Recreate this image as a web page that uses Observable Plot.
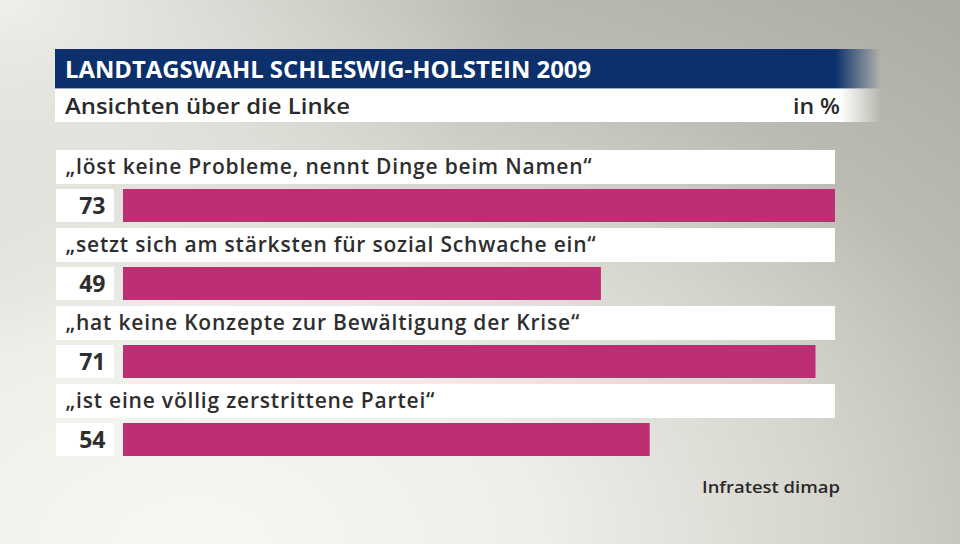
<!DOCTYPE html>
<html><head><meta charset="utf-8">
<script src="https://cdn.jsdelivr.net/npm/d3@7"></script>
<script src="https://cdn.jsdelivr.net/npm/@observablehq/plot@0.6"></script>
<style>
body{margin:0;background:#fff;}
#wrap{position:relative;width:960px;height:544px;overflow:hidden;font-family:"Open Sans",sans-serif;
 background:
  radial-gradient(ellipse 520px 300px at 0% 0%, rgba(246,246,242,0.9) 0%, rgba(246,246,242,0) 100%),
  radial-gradient(ellipse 1150px 720px at 20% 100%, #f7f7f3 0%, #efefea 30%, #d6d6cf 55%, #bdbcb4 75%, #adaca4 100%);}
#plot{position:absolute;left:0;top:0;}
.bar{position:absolute;left:55px;width:826px;}
#titlebar{top:49px;height:39px;background:linear-gradient(to right,#0b306b 0px,#0b306b 780px,rgba(11,48,107,0) 826px);}
#subbar{top:89px;height:33px;background:linear-gradient(to right,#ffffff 0px,#ffffff 785px,rgba(255,255,255,0) 826px);}
#sep{top:88px;height:1px;background:linear-gradient(to right,#9fb0cc 0px,#9fb0cc 780px,rgba(159,176,204,0) 826px);}
.t{position:absolute;white-space:nowrap;transform-origin:0 50%;}
#title{left:65px;top:50px;line-height:38px;font-size:24px;font-weight:700;color:#fff;}
#sub{left:65px;top:89px;line-height:33px;font-size:22px;font-weight:600;color:#2a2a2a;}
#unit{left:793px;top:89px;line-height:33px;font-size:22px;font-weight:600;color:#2a2a2a;}
#src{left:702px;top:474px;line-height:26px;font-size:17px;font-weight:600;color:#2a2a2a;}
</style></head>
<body>
<div id="wrap">
  <div id="plot"></div>
  <div class="bar" id="titlebar"></div>
  <div class="bar" id="sep"></div>
  <div class="bar" id="subbar"></div>
  <div class="t" id="title">LANDTAGSWAHL SCHLESWIG-HOLSTEIN 2009</div>
  <div class="t" id="sub">Ansichten über die Linke</div>
  <div class="t" id="unit">in %</div>
  <div class="t" id="src">Infratest dimap</div>
</div>
<script>
const categories = [
  "„löst keine Probleme, nennt Dinge beim Namen“",
  "„setzt sich am stärksten für sozial Schwache ein“",
  "„hat keine Konzepte zur Bewältigung der Krise“",
  "„ist eine völlig zerstrittene Partei“"
];
const values = [73, 49, 71, 54];

const data = categories.map((label, i) => ({label, value: values[i]}));
const xmax = d3.max(values);

const chart = Plot.plot({
  width: 960, height: 544,
  marginTop: 0, marginRight: 0, marginBottom: 0, marginLeft: 0,
  style: {background: "transparent", fontFamily: "'Open Sans', sans-serif", overflow: "visible"},
  x: {domain: [0, xmax], range: [123, 835], axis: null},
  y: {type: "band", domain: categories, range: [150, 462], padding: 0, axis: null},
  marks: [
    Plot.barX(data, {x1: () => 0, x2: () => xmax, y: "label", fill: "white", insetLeft: -67, insetTop: 0, insetBottom: 44}),
    Plot.barX(data, {x1: () => 0, x2: () => 0, y: "label", fill: "white", insetLeft: -67, insetRight: 9, insetTop: 39, insetBottom: 6}),
    Plot.barX(data, {x: "value", y: "label", fill: "#bd2f72", insetTop: 39, insetBottom: 6}),
    Plot.text(data, {x: () => 0, y: "label", text: "label", textAnchor: "start", dx: -58, dy: -22, fontSize: 21, fontWeight: 600, fill: "#2e2e2e"}),
    Plot.text(data, {x: () => 0, y: "label", text: d => String(d.value), textAnchor: "end", dx: -18, dy: 17, fontSize: 23, fontWeight: 700, fill: "#2e2e2e"})
  ]
});
document.getElementById("plot").appendChild(chart);

// widen label lettering so the first label spans its reference width
const textGroups = chart.querySelectorAll('g[aria-label="text"]');
const labelTexts = textGroups[0].querySelectorAll("text");
const first = labelTexts[0];
const w0 = first.getComputedTextLength();
const ls = (527 - w0) / categories[0].length;
textGroups[0].setAttribute("letter-spacing", ls.toFixed(2));

// fit header texts to the reference widths
function fit(id, w) {
  const el = document.getElementById(id);
  const nat = el.getBoundingClientRect().width;
  el.style.transform = `scaleX(${w / nat})`;
}
fit("title", 526);
fit("sub", 285);
fit("unit", 47);
fit("src", 138);
</script>
</body></html>
